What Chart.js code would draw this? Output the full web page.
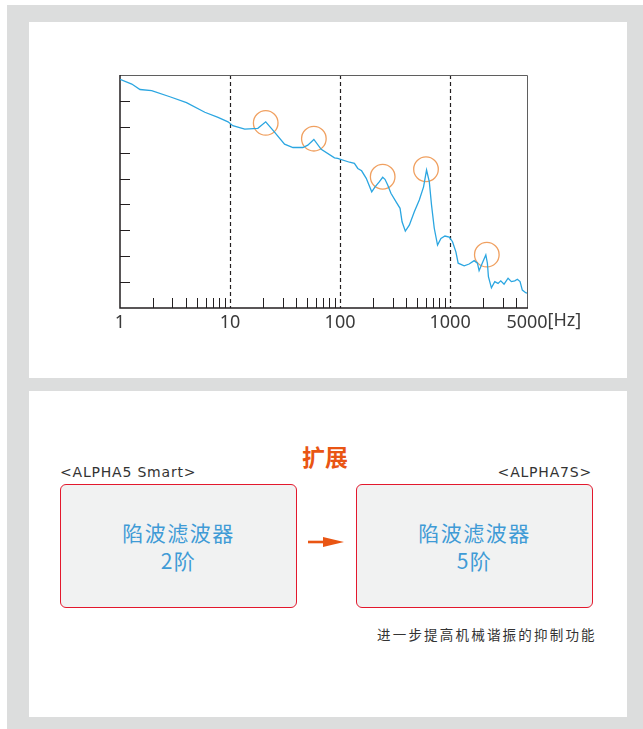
<!DOCTYPE html>
<html>
<head>
<meta charset="utf-8">
<script src="https://cdn.jsdelivr.net/npm/chart.js@4.4.1/dist/chart.umd.min.js"></script>
<style>
  html, body { margin: 0; padding: 0; background: #fff; }
  body { width: 643px; height: 729px; position: relative; overflow: hidden;
         font-family: "Noto Sans", "Noto Sans CJK SC", sans-serif; }
  #bg { position: absolute; left: 7px; top: 5px; width: 636px; height: 724px; background: #dcdddd; }
  .panel { position: absolute; left: 29px; width: 598px; background: #fff; }
  #p1 { top: 22px; height: 356px; }
  #p2 { top: 391px; height: 326px; }
  #p2 div { position: absolute; }
  .name { font-family: "DejaVu Sans", sans-serif; font-size: 14px; color: #333; line-height: 18px;
          top: 72px; letter-spacing: 0.8px; }
  .box { top: 93px; width: 235px; height: 122px; border: 1px solid #e3182d; border-radius: 6px;
         background: #f1f2f2; display: flex; align-items: center; justify-content: center;
         text-align: center; color: #3f9bd6; font-size: 21px; line-height: 28px; letter-spacing: 1.5px;
         font-family: "Noto Sans CJK SC", sans-serif; }
  #ext { left: 272px; top: 50px; width: 48px; text-align: center; font-size: 23px; font-weight: bold;
         color: #e95513; line-height: 30px; font-family: "Noto Sans CJK SC", sans-serif; }
  #caption { left: 348px; top: 233px; font-size: 13.5px; color: #333; letter-spacing: 2.2px;
             line-height: 20px; font-family: "Noto Sans CJK SC", sans-serif; }
</style>
</head>
<body>
<div id="bg"></div>
<div class="panel" id="p1"><canvas id="resp" width="598" height="356"></canvas></div>
<div class="panel" id="p2">
  <div id="ext">扩展</div>
  <div class="name" style="left:31px">&lt;ALPHA5 Smart&gt;</div>
  <div class="name" style="right:35px">&lt;ALPHA7S&gt;</div>
  <div class="box" style="left:31px">陷波滤波器<br>2阶</div>
  <div class="box" style="left:327px">陷波滤波器<br>5阶</div>
  <div style="left:278px; top:142px">
    <svg width="40" height="16"><line x1="1" y1="8" x2="20" y2="8" stroke="#e95513" stroke-width="2.6"/>
      <polygon points="16,3 37,8 16,13" fill="#e95513"/></svg>
  </div>
  <div id="caption">进一步提高机械谐振的抑制功能</div>
</div>
<script>
// frequency [Hz] and response (axis units, 0-9)
const freq = [1, 1.28, 1.52, 1.94, 2.84, 4.02, 5.9, 7.78, 9.59, 10.6, 13.6, 17.9, 21.1, 24.5, 31.3,
  37.3, 45.9, 50.9, 57.8, 67.4, 89, 95, 122, 135, 145, 157, 173, 194, 208, 228, 244, 256, 271,
  290, 323, 351, 366, 392, 426, 473, 525, 574, 611, 647, 678, 718, 769, 826, 898, 982, 1052,
  1129, 1184, 1343, 1490, 1655, 1772, 1835, 1968, 2112, 2183, 2230, 2374, 2547, 2729, 2888,
  3094, 3365, 3606, 3872, 4087, 4324, 4533, 4864, 5000];
const resp = [8.83, 8.65, 8.44, 8.40, 8.16, 7.93, 7.56, 7.36, 7.19, 7.04, 6.91, 6.94, 7.19, 6.87, 6.33,
  6.20, 6.20, 6.29, 6.51, 6.13, 5.80, 5.78, 5.63, 5.59, 5.39, 5.30, 5.01, 4.49, 4.68, 4.88, 5.05, 4.97, 4.75,
  4.43, 4.10, 3.85, 3.33, 2.97, 3.20, 3.72, 4.17, 4.68, 5.33, 4.88, 3.98, 3.08, 2.43, 2.69, 2.78, 2.74, 2.56,
  2.17, 1.73, 1.63, 1.70, 1.83, 1.73, 1.44, 1.75, 2.05, 1.73, 1.21, 0.78, 1.02, 0.95, 1.05,
  0.92, 1.15, 1.02, 1.05, 1.11, 1.02, 0.69, 0.59, 0.57];

// resonance peaks marked with circles
const peakFreq = [21.1, 57.8, 244, 604, 2157];
const peakResp = [7.15, 6.54, 5.07, 5.36, 2.06];

const xLabels = [1, 10, 100, 1000, 5000];
const decadeLines = [10, 100, 1000];
const minorTicks = [2, 3, 4, 5, 6, 7, 8, 9, 20, 30, 40, 50, 60, 70, 80, 90,
  200, 300, 400, 500, 600, 700, 800, 900, 2000, 3000, 4000];
const yTicks = [1, 2, 3, 4, 5, 6, 7, 8];

const labelFont = '18px "Noto Sans"';

const frame = {
  id: 'frame',
  beforeDatasetsDraw(chart) {
    const { ctx, chartArea: a, scales: { x, y } } = chart;
    ctx.save();
    ctx.strokeStyle = '#231f20';
    ctx.lineWidth = 1.2;
    ctx.setLineDash([4, 3]);
    decadeLines.forEach(v => {
      const px = Math.round(x.getPixelForValue(v)) + 0.5;
      ctx.beginPath(); ctx.moveTo(px, a.top); ctx.lineTo(px, a.bottom); ctx.stroke();
    });
    ctx.setLineDash([]);
    ctx.lineWidth = 1;
    minorTicks.forEach(v => {
      const px = Math.round(x.getPixelForValue(v)) + 0.5;
      ctx.beginPath(); ctx.moveTo(px, a.bottom); ctx.lineTo(px, a.bottom - 10); ctx.stroke();
    });
    yTicks.forEach(v => {
      const py = Math.round(y.getPixelForValue(v)) + 0.5;
      ctx.beginPath(); ctx.moveTo(a.left, py); ctx.lineTo(a.left + 10, py); ctx.stroke();
    });
    // top and right edges are lighter
    ctx.strokeStyle = '#5f5f5f';
    ctx.beginPath(); ctx.moveTo(a.left, a.top + 0.5); ctx.lineTo(a.right + 0.5, a.top + 0.5);
    ctx.lineTo(a.right + 0.5, a.bottom); ctx.stroke();
    ctx.strokeStyle = '#231f20';
    ctx.lineWidth = 1.5;
    ctx.beginPath(); ctx.moveTo(a.left, a.top); ctx.lineTo(a.left, a.bottom); ctx.lineTo(a.right + 1, a.bottom); ctx.stroke();
    ctx.restore();
  },
  afterDraw(chart) {
    // unit after the last label
    const { ctx, scales: { x } } = chart;
    ctx.save();
    ctx.font = labelFont;
    ctx.fillStyle = '#3a3a3a';
    ctx.textBaseline = 'top';
    const px = x.getPixelForValue(5000) + ctx.measureText('5000').width / 2;
    ctx.fillText('[Hz]', px, chart.chartArea.bottom + 4);
    ctx.restore();
  }
};

new Chart(document.getElementById('resp'), {
  type: 'line',
  data: {
    datasets: [{
      data: freq.map((f, i) => ({ x: f, y: resp[i] })),
      borderColor: '#2ba6e1',
      borderWidth: 1.3,
      pointRadius: 0,
      tension: 0
    }, {
      type: 'scatter',
      data: peakFreq.map((f, i) => ({ x: f, y: peakResp[i] })),
      pointRadius: 12.3,
      borderColor: '#f0a060',
      borderWidth: 1.3,
      backgroundColor: 'rgba(0,0,0,0)'
    }]
  },
  options: {
    responsive: false,
    animation: false,
    layout: { padding: { left: 91, right: 100, top: 53, bottom: 0 } },
    scales: {
      x: {
        type: 'logarithmic',
        min: 1,
        max: 5000,
        grid: { display: false, drawTicks: false },
        border: { display: false },
        afterBuildTicks: s => { s.ticks = xLabels.map(v => ({ value: v })); },
        afterFit: s => { s.height = 70; },
        ticks: {
          autoSkip: false,
          maxRotation: 0,
          padding: 4,
          color: '#3a3a3a',
          font: { family: 'Noto Sans', size: 18 },
          callback: v => String(v)
        }
      },
      y: { display: false, min: 0, max: 9 }
    },
    plugins: { legend: { display: false }, tooltip: { enabled: false } }
  },
  plugins: [frame]
});
</script>
</body>
</html>
